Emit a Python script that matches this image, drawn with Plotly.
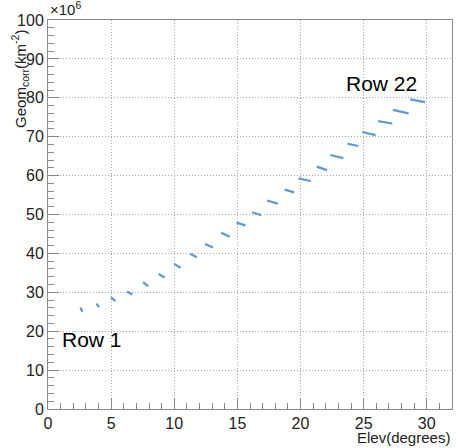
import plotly.graph_objects as go

# Per-row segments (Elev in degrees, Geom_corr in units of 1e6 km^-2)
rows = list(range(1, 23))
row_x_start = [2.57, 3.83, 5.00, 6.27, 7.53, 8.77, 10.00, 11.26, 12.44, 13.72, 14.93,
               16.16, 17.35, 18.74, 19.84, 21.28, 22.36, 23.72, 24.90, 26.14, 27.32, 28.69]
row_x_end = [2.73, 4.04, 5.35, 6.67, 7.93, 9.24, 10.50, 11.79, 13.07, 14.39, 15.64,
             16.90, 18.20, 19.50, 20.81, 22.10, 23.39, 24.57, 25.95, 27.27, 28.56, 29.87]
row_y_start = [26.1, 27.1, 28.7, 30.2, 32.6, 34.7, 37.3, 39.9, 42.4, 45.3, 47.9,
               50.6, 53.6, 56.4, 59.3, 62.3, 65.3, 68.2, 71.2, 74.0, 76.9, 79.6]
row_y_end = [25.0, 26.2, 27.7, 29.4, 31.5, 33.8, 36.3, 39.0, 41.5, 44.3, 47.2,
             49.8, 52.8, 55.7, 58.6, 61.4, 64.5, 67.6, 70.4, 73.4, 76.0, 78.9]

xs, ys = [], []
for x0, x1, y0, y1 in zip(row_x_start, row_x_end, row_y_start, row_y_end):
    xs += [x0, x1, None]
    ys += [y0, y1, None]

fig = go.Figure()
fig.add_trace(go.Scatter(x=xs, y=ys, mode="lines",
                         line=dict(color="#5b9bd5", width=2.2),
                         showlegend=False, hoverinfo="skip"))

font = "Liberation Sans, Arial, sans-serif"
axis_common = dict(
    showline=True, linecolor="#8a8a8a", linewidth=1, mirror=True,
    ticks="inside", ticklen=11, tickcolor="#8a8a8a", tickwidth=1,
    showgrid=True, gridcolor="#a8a8a8", griddash="1px,2px", gridwidth=1,
    zeroline=False, tickfont=dict(family=font, size=16, color="#222"),
)
fig.update_xaxes(range=[0, 32], tick0=0, dtick=5,
                 minor=dict(ticks="inside", ticklen=6, dtick=1, tickcolor="#8a8a8a", showgrid=False),
                 **axis_common)
fig.update_yaxes(range=[0, 100], tick0=0, dtick=10,
                 minor=dict(ticks="inside", ticklen=6, dtick=2, tickcolor="#8a8a8a", showgrid=False),
                 **axis_common)

fig.add_annotation(x=3.46, y=17.8, text="Row 1", showarrow=False,
                   font=dict(family=font, size=21, color="black"))
fig.add_annotation(x=26.4, y=83.8, text="Row 22", showarrow=False,
                   font=dict(family=font, size=21, color="black"))
fig.add_annotation(xref="paper", yref="paper", x=1.0, y=-0.072, xanchor="right", yanchor="middle",
                   text="Elev(degrees)", showarrow=False,
                   font=dict(family=font, size=15, color="#222"))
fig.add_annotation(xref="paper", yref="paper", x=-0.069, y=0.98, xanchor="center", yanchor="top",
                   text="Geom<sub>corr</sub>(km<sup>-2</sup>)", textangle=-90, showarrow=False,
                   font=dict(family=font, size=15, color="#222"))
fig.add_annotation(xref="paper", yref="paper", x=0.0, y=1.0, xanchor="left", yanchor="bottom",
                   text="×10<sup>6</sup>", showarrow=False,
                   font=dict(family=font, size=15, color="#222"))

fig.update_layout(width=456, height=448,
                  margin=dict(l=48, r=4, t=20, b=39),
                  paper_bgcolor="white", plot_bgcolor="white")

fig.write_html("out.html", config={"displayModeBar": False},
               post_script="document.body.style.margin='0';")
